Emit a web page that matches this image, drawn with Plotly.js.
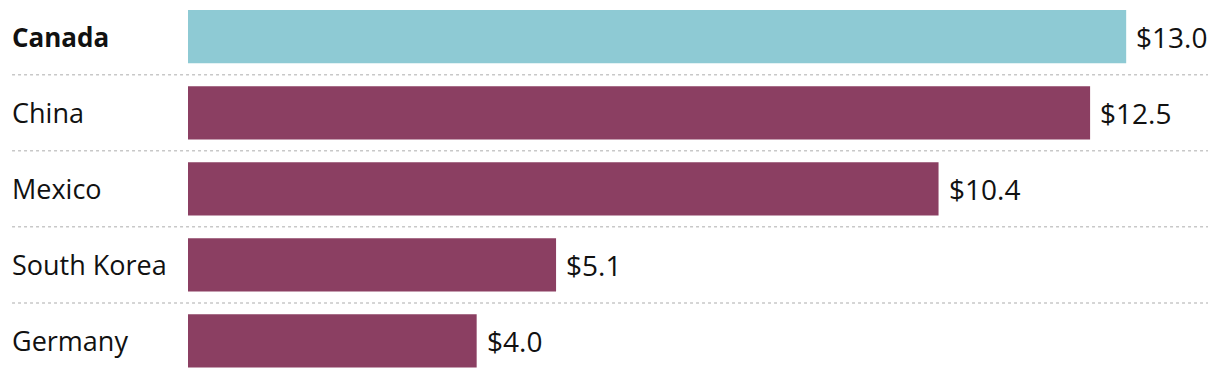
<!DOCTYPE html>
<html>
<head>
<meta charset="utf-8">
<script src="https://cdn.plot.ly/plotly-3.0.1.min.js"></script>
<style>html,body{margin:0;padding:0;background:#fff;}#chart{width:1220px;height:378px;}</style>
</head>
<body>
<div id="chart"></div>
<script>
const countries = ["Canada", "China", "Mexico", "South Korea", "Germany"];
const values = [13.0, 12.5, 10.4, 5.1, 4.0];
const valueLabels = ["$13.0", "$12.5", "$10.4", "$5.1", "$4.0"];
const highlight = ["Canada"];

const TEAL = "#8ecad4", MAROON = "#8b3f62";
const FONT = "Open Sans, Noto Sans, sans-serif";
const idx = countries.map((c, i) => i);

const trace = {
  type: "bar",
  orientation: "h",
  x: values,
  y: idx,
  width: 0.7,
  marker: { color: countries.map(c => highlight.includes(c) ? TEAL : MAROON) },
  hoverinfo: "none"
};

const annotations = [];
countries.forEach((c, i) => {
  const hl = highlight.includes(c);
  annotations.push({
    xref: "paper", yref: "y", x: -0.1725, y: i, xanchor: "left", yanchor: "middle",
    text: hl ? "<b>" + c + "</b>" : c, showarrow: false,
    font: { family: FONT, size: hl ? 26 : 27, color: "#111" }
  });
  annotations.push({
    xref: "x", yref: "y", x: values[i], y: i, xanchor: "left", yanchor: "middle", xshift: 8,
    text: valueLabels[i], showarrow: false,
    font: { family: FONT, size: 28, color: "#111" }
  });
});

const shapes = idx.slice(0, -1).map(i => ({
  type: "line", xref: "paper", yref: "y", x0: -0.1705, x1: 0.9884, y0: i + 0.5, y1: i + 0.5,
  line: { color: "#c8c8c8", width: 1.5, dash: "dot" }, layer: "below"
}));

const layout = {
  width: 1220, height: 378,
  margin: { l: 188, r: 0, t: 0, b: 0 },
  paper_bgcolor: "#fff", plot_bgcolor: "#fff",
  showlegend: false,
  xaxis: { range: [0, 14.30], visible: false, fixedrange: true },
  yaxis: { range: [4.487, -0.4825], visible: false, fixedrange: true },
  annotations: annotations,
  shapes: shapes
};

Plotly.newPlot("chart", [trace], layout, { displayModeBar: false, staticPlot: true });
</script>
</body>
</html>
